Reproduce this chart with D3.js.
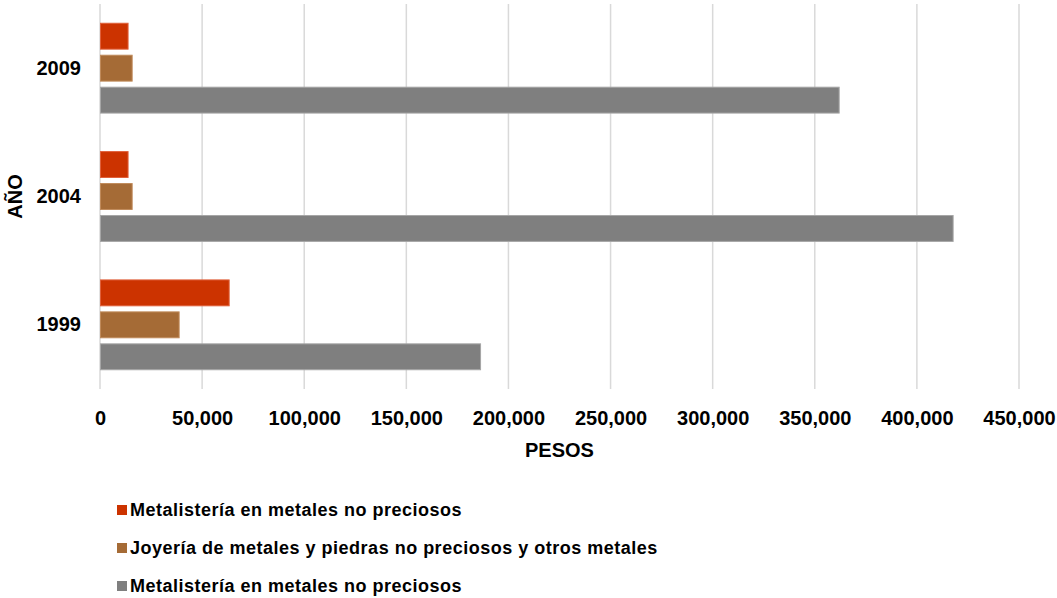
<!DOCTYPE html>
<html>
<head>
<meta charset="utf-8">
<script src="https://cdn.jsdelivr.net/npm/d3@7"></script>
<style>
  body { margin: 0; background: #fff; }
  text { font-family: "Liberation Sans", Arial, sans-serif; font-weight: bold; fill: #000; }
</style>
</head>
<body>
<div id="chart"></div>
<script>
// Categories, top to bottom
var years = ["2009", "2004", "1999"];
var seriesNames = [
    "Metalistería en metales no preciosos",
    "Joyería de metales y piedras no preciosos y otros metales",
    "Metalistería en metales no preciosos"
];
var seriesColors = ["#cc3300", "#a56b36", "#7f7f7f"];
var seriesStrokes = ["#e0603a", "#c08a5a", "#a6a6a6"];
// values per series, same order as years
var metalisteriaA = [13500, 13500, 63000];
var joyeria = [15500, 15500, 38500];
var metalisteriaB = [361700, 417500, 186100];
var xTicks = [0, 50000, 100000, 150000, 200000, 250000, 300000, 350000, 400000, 450000];

var W = 1057, H = 598;
var margin = { top: 4, right: 38, bottom: 209, left: 100 };
var width = W - margin.left - margin.right;
var height = H - margin.top - margin.bottom;

var svg = d3.select("#chart")
    .append("svg")
    .attr("width", W)
    .attr("height", H)
    .append("g")
    .attr("transform", "translate(" + margin.left + "," + margin.top + ")");

var x = d3.scaleLinear()
    .domain([0, 450000])
    .range([0, width]);

var y = d3.scaleBand()
    .domain(years)
    .range([0, height])
    .paddingInner(0.3)
    .paddingOuter(0.15);

var ySub = d3.scaleBand()
    .domain([0, 1, 2])
    .range([0, y.bandwidth()])
    .paddingInner(0.19);

// gridlines
svg.selectAll(".grid")
    .data(xTicks)
    .enter()
    .append("line")
    .attr("x1", function (d) { return x(d); })
    .attr("x2", function (d) { return x(d); })
    .attr("y1", 0)
    .attr("y2", height)
    .style("stroke", "#d9d9d9")
    .style("stroke-width", 1.5);

// bars
var allSeries = [metalisteriaA, joyeria, metalisteriaB];
var rows = [];
years.forEach(function (yr, i) {
    allSeries.forEach(function (s, k) {
        rows.push({ year: yr, k: k, value: s[i] });
    });
});

svg.selectAll(".bar")
    .data(rows)
    .enter()
    .append("rect")
    .attr("x", x(0) + 0.5)
    .attr("y", function (d) { return y(d.year) + ySub(d.k); })
    .attr("width", function (d) { return x(d.value) - x(0); })
    .attr("height", ySub.bandwidth())
    .style("fill", function (d) { return seriesColors[d.k]; })
    .style("stroke", function (d) { return seriesStrokes[d.k]; })
    .style("stroke-width", 1);

// x axis labels
var xAxis = d3.axisBottom(x)
    .tickValues(xTicks)
    .tickSize(0)
    .tickPadding(0)
    .tickFormat(d3.format(","));

var gx = svg.append("g")
    .attr("transform", "translate(0," + (height + 22) + ")")
    .call(xAxis);
gx.select(".domain").remove();
gx.selectAll("text")
    .style("font-size", "20px")
    .style("font-family", "'Liberation Sans', Arial, sans-serif")
    .style("font-weight", "bold")
    .attr("fill", "#000");

// y axis labels
var yAxis = d3.axisLeft(y).tickSize(0).tickPadding(19);
var gy = svg.append("g").call(yAxis);
gy.select(".domain").remove();
gy.selectAll("text")
    .style("font-size", "20px")
    .style("font-family", "'Liberation Sans', Arial, sans-serif")
    .style("font-weight", "bold")
    .attr("fill", "#000");

// axis titles
svg.append("text")
    .attr("x", width / 2)
    .attr("y", height + 68)
    .style("font-size", "20px")
    .style("text-anchor", "middle")
    .text("PESOS");

svg.append("text")
    .attr("transform", "translate(" + (-78) + "," + (height / 2) + ") rotate(-90)")
    .style("font-size", "20px")
    .style("text-anchor", "middle")
    .text("AÑO");

// legend
var legend = svg.selectAll(".legend")
    .data(seriesNames)
    .enter()
    .append("g")
    .attr("transform", function (d, i) { return "translate(17," + (height + 121 + i * 38) + ")"; });

legend.append("rect")
    .attr("x", 0)
    .attr("y", -5)
    .attr("width", 10)
    .attr("height", 10)
    .style("fill", function (d, i) { return seriesColors[i]; });

legend.append("text")
    .attr("x", 13)
    .attr("y", 0)
    .attr("dy", "0.35em")
    .style("font-size", "18px")
    .style("letter-spacing", "0.5px")
    .text(function (d) { return d; });
</script>
</body>
</html>
